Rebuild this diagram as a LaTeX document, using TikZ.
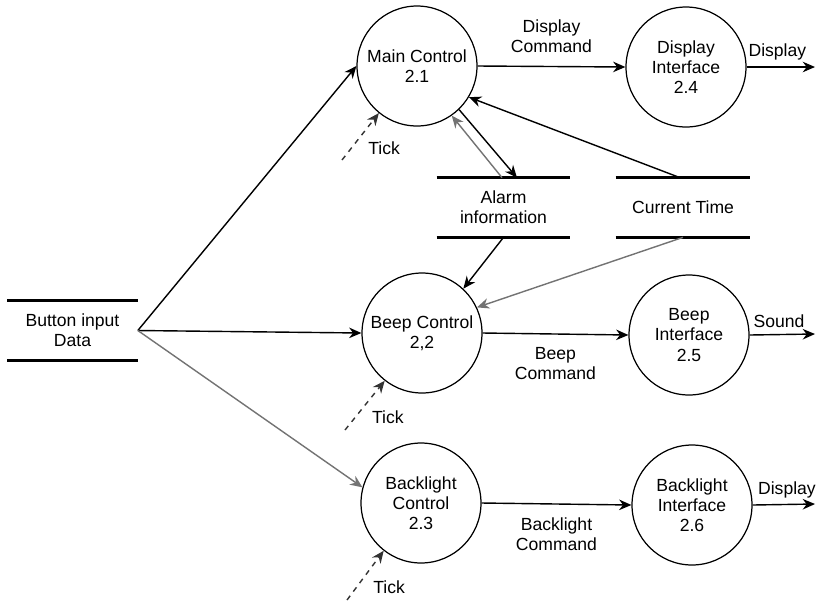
\documentclass[tikz,border=0pt]{standalone}
\usepackage{fontspec}
\setmainfont{Liberation Sans}
\usetikzlibrary{arrows.meta}

\begin{document}
\begin{tikzpicture} [x=0.02cm, y=-0.02cm,
  font=\fontsize{10}{11.5}\selectfont,
  proc/.style={draw, circle, line width=0.7pt, minimum size=2.4cm, inner sep=0pt, align=center},
  store/.style={minimum width=2.6cm, minimum height=1.18cm, align=center, inner sep=0pt},
  flow/.style={-{Stealth[length=7pt,width=6pt]}, line width=0.8pt},
  grayflow/.style={flow, draw=black!55},
  tick/.style={flow, dashed, draw=black!80},
  bar/.style={line width=1.6pt}]
\useasboundingbox (0,0) rectangle (821,606);
% processes
\node[proc] (main) at (417,66) {Main Control\\2.1};
\node[proc] (disp) at (686,67) {Display\\Interface\\2.4};
\node[proc] (beep) at (422,333) {Beep Control\\2,2};
\node[proc] (bint) at (689,335) {Beep\\Interface\\2.5};
\node[proc] (blc) at (421,503) {Backlight\\Control\\2.3};
\node[proc] (blint) at (692,505) {Backlight\\Interface\\2.6};
% stores
\node[store] (btn) at (72.5,330.5) {Button input\\Data};
\node[store, minimum width=2.66cm] (alm) at (503.5,207.5) {Alarm\\information};
\node[store, minimum width=2.68cm] (ct) at (683,207.5) {Current Time};
\foreach \s in {btn, alm, ct} {
  \draw[bar] (\s.north west) -- (\s.north east);
  \draw[bar] (\s.south west) -- (\s.south east);
}
% free ends
\coordinate (tk1) at (342,160);
\coordinate (tk2) at (345,430);
\coordinate (tk3) at (347,600);
\coordinate (o1) at (815,67);
\coordinate (o2) at (815,334);
\coordinate (o3) at (815,504);
% button input
\draw[flow] (btn.east) -- (main.west);
\draw[flow] (btn.east) -- (beep.west);
\draw[grayflow] (btn.east) -- (blc.165);
% commands
\draw[flow] (main.east) -- (disp.west) node[above, pos=.5, align=center, yshift=4pt]{Display\\Command};
\draw[flow] (beep.east) -- (bint.west) node[below, pos=.5, align=center, yshift=-4pt]{Beep\\Command};
\draw[flow] (blc.east) -- (blint.west) node[below, pos=.5, align=center, yshift=-4pt]{Backlight\\Command};
% outputs
\draw[flow] (disp.east) -- (o1) node[above, pos=.45]{Display};
\draw[flow] (bint.east) -- (o2) node[above, pos=.45]{Sound};
\draw[flow] (blint.east) -- (o3) node[above, pos=.55]{Display};
% stores to processes
\draw[flow] (main.-46) -- ([xshift=0.27cm]alm.north);
\draw[grayflow] ([xshift=-0.03cm]alm.north) -- (main.-55);
\draw[flow] ([xshift=-0.06cm]ct.north) -- (main.-31);
\draw[flow] (alm.south) -- (beep.47);
\draw[grayflow] (ct.south) -- (beep.25);
% ticks
\draw[tick] (tk1) -- (main.231) node[right, pos=.25, xshift=6pt]{Tick};
\draw[tick] (tk2) -- (beep.232) node[right, pos=.25, xshift=6pt]{Tick};
\draw[tick] (tk3) -- (blc.232) node[right, pos=.25, xshift=6pt]{Tick};
\end{tikzpicture}
\end{document}
